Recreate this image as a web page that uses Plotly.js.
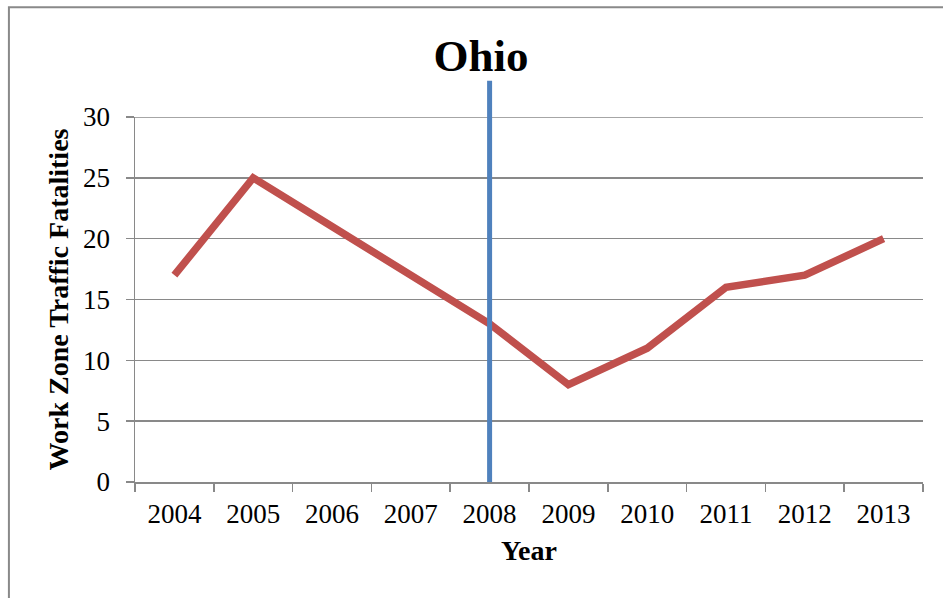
<!DOCTYPE html>
<html>
<head>
<meta charset="utf-8">
<script src="https://cdn.plot.ly/plotly-3.0.1.min.js"></script>
<style>html,body{margin:0;padding:0;background:#fff}#chart{width:943px;height:598px}</style>
</head>
<body>
<div id="chart"></div>
<script>
const years = ['2004','2005','2006','2007','2008','2009','2010','2011','2012','2013'];
const fatalities = [17, 25, 21, 17, 13, 8, 11, 16, 17, 20];
const markerYear = '2008';
const yTicks = [0, 5, 10, 15, 20, 25, 30];

const serif = 'Liberation Serif, Times New Roman, serif';
const grey = '#898989';
const markerIdx = years.indexOf(markerYear);
const yTop = yTicks[yTicks.length - 1];

const data = [{
  type: 'scatter', mode: 'lines',
  x: years, y: fatalities,
  line: {color: '#C0504D', width: 7.5},
  hoverinfo: 'skip', showlegend: false
}];

const layout = {
  width: 943, height: 598,
  margin: {l: 135, r: 20, t: 117, b: 116},
  paper_bgcolor: '#fff', plot_bgcolor: '#fff',
  showlegend: false,
  title: {text: '<b>Ohio</b>', font: {family: serif, size: 45, color: '#000'},
          xref: 'paper', x: 0.439, xanchor: 'center', yref: 'container', y: 0.908, yanchor: 'middle'},
  xaxis: {
    type: 'category', range: [-0.5, 9.5], tickson: 'boundaries',
    ticks: 'outside', ticklen: 8, tickcolor: grey, tickwidth: 1.5,
    showline: true, linecolor: grey, linewidth: 1.5, showgrid: false,
    ticklabelstandoff: 7,
    tickfont: {family: serif, size: 27, color: '#000'},
    title: {text: '<b>Year</b>', font: {family: serif, size: 28, color: '#000'}, standoff: 12}
  },
  yaxis: {
    range: [0, yTop], tickvals: yTicks,
    ticks: 'outside', ticklen: 8, tickcolor: grey, tickwidth: 1.5,
    showline: true, linecolor: grey, linewidth: 1.5,
    showgrid: true, gridcolor: grey, gridwidth: 1.5, zeroline: false,
    ticklabelstandoff: 10,
    tickfont: {family: serif, size: 27, color: '#000'},
    title: {text: '<b>Work Zone Traffic Fatalities</b>', font: {family: serif, size: 28, color: '#000'}, standoff: 6}
  },
  shapes: [
    {type: 'line', xref: 'paper', yref: 'y', x0: 0, x1: 1, y0: yTop, y1: yTop,
     line: {color: grey, width: 1.5}, layer: 'below'},
    {type: 'line', xref: 'x', yref: 'paper', x0: markerIdx, x1: markerIdx, y0: 0, y1: 1.099,
     line: {color: '#4F81BD', width: 5}, layer: 'above'},
    {type: 'rect', xref: 'paper', yref: 'paper', x0: -0.16, x1: 1.05, y0: -0.34, y1: 1.301,
     line: {color: grey, width: 2}, layer: 'below'}
  ]
};

Plotly.newPlot('chart', data, layout, {staticPlot: true, displayModeBar: false});
</script>
</body>
</html>
